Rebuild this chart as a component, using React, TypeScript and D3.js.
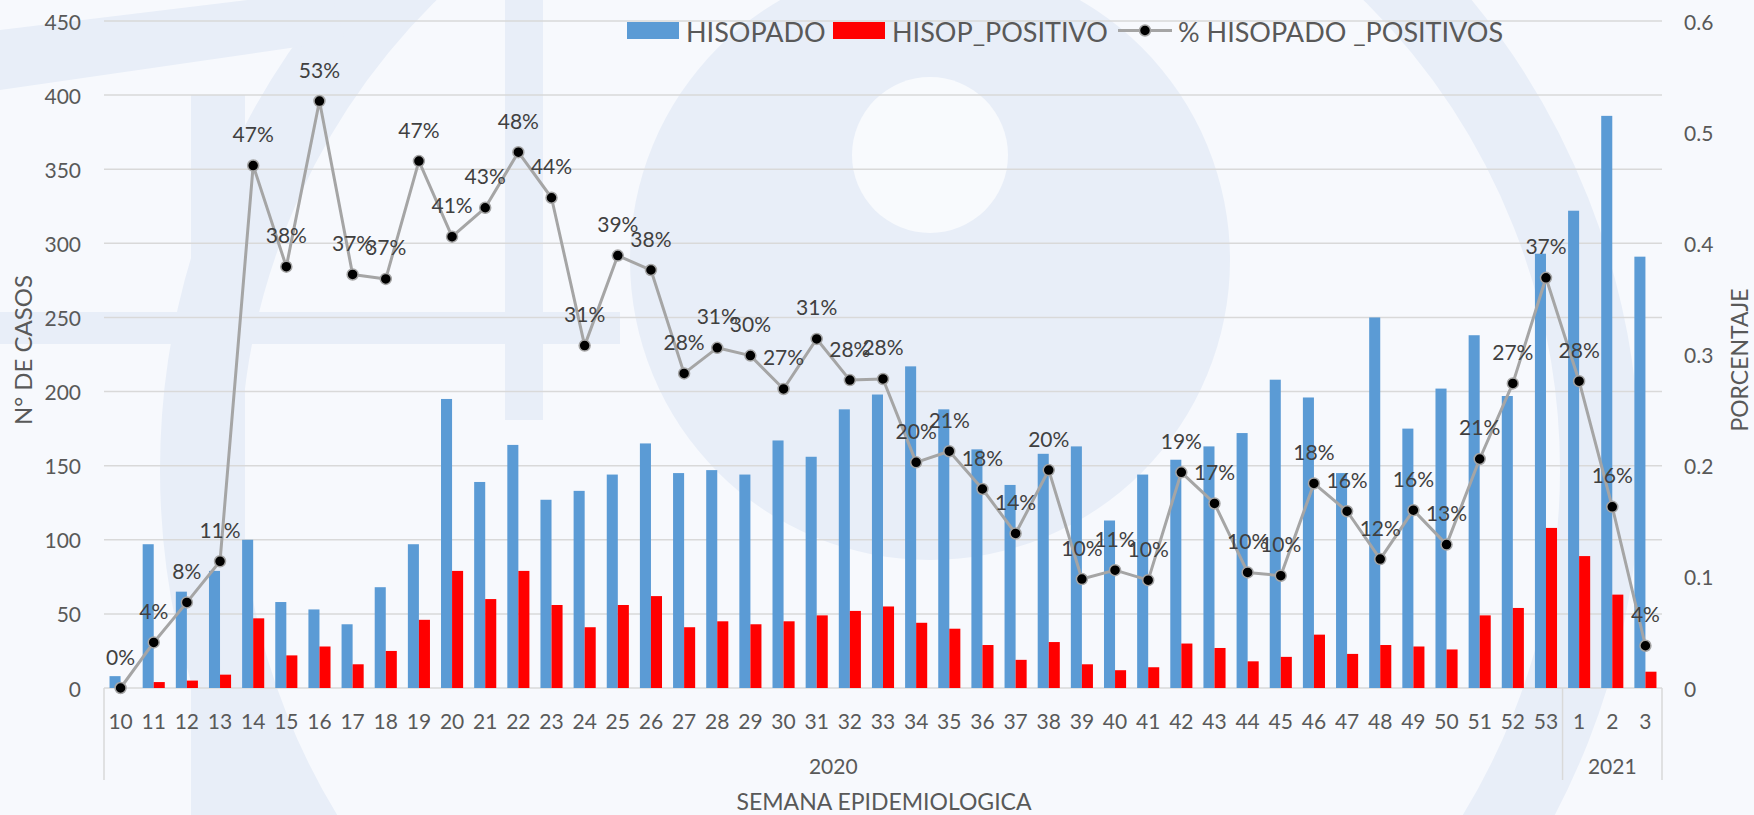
import React, { useEffect } from 'react';
import * as d3 from 'd3';

// semanas epidemiologicas (2020: 10-53, 2021: 1-3)
const weeks = [
  '10', '11', '12', '13', '14', '15', '16', '17', '18', '19',
  '20', '21', '22', '23', '24', '25', '26', '27', '28', '29',
  '30', '31', '32', '33', '34', '35', '36', '37', '38', '39',
  '40', '41', '42', '43', '44', '45', '46', '47', '48', '49',
  '50', '51', '52', '53', '1', '2', '3',
];
const yearGroups: [string, number][] = [['2020', 44], ['2021', 3]];

const hisopado = [
  8, 97, 65, 79, 100, 58, 53, 43, 68, 97,
  195, 139, 164, 127, 133, 144, 165, 145, 147, 144,
  167, 156, 188, 198, 217, 188, 161, 137, 158, 163,
  113, 144, 154, 163, 172, 208, 196, 145, 250, 175,
  202, 238, 197, 293, 322, 386, 291,
];
const hisopPositivo = [
  0, 4, 5, 9, 47, 22, 28, 16, 25, 46,
  79, 60, 79, 56, 41, 56, 62, 41, 45, 43,
  45, 49, 52, 55, 44, 40, 29, 19, 31, 16,
  12, 14, 30, 27, 18, 21, 36, 23, 29, 28,
  26, 49, 54, 108, 89, 63, 11,
];
const pctPositivos = [
  0, 0.041, 0.077, 0.114, 0.47, 0.379, 0.528, 0.372, 0.368, 0.474,
  0.406, 0.432, 0.482, 0.441, 0.308, 0.389, 0.376, 0.283, 0.306, 0.299,
  0.269, 0.314, 0.277, 0.278, 0.203, 0.213, 0.179, 0.139, 0.196, 0.098,
  0.106, 0.097, 0.194, 0.166, 0.104, 0.101, 0.184, 0.159, 0.116, 0.16,
  0.129, 0.206, 0.274, 0.369, 0.276, 0.163, 0.038,
];
const leftTicks = [0, 50, 100, 150, 200, 250, 300, 350, 400, 450];
const rightTicks = [0, 0.1, 0.2, 0.3, 0.4, 0.5, 0.6];

const W = 1754;
const H = 815;
const left = 104;
const right = 1662;
const top = 21;
const bottom = 688;
const font = 'Lato, "Open Sans", sans-serif';
const textColor = '#595959';
const blue = '#5b9bd5';
const red = '#ff0000';
const lineGray = '#a5a5a5';

const App: React.FC = () => {
  useEffect(() => {
    document.body.style.margin = '0';
    document.body.style.overflow = 'hidden';
  }, []);

  const idx = weeks.map((_, i) => i);
  const x = d3.scaleBand<number>().domain(idx).range([left, right]).padding(0);
  const bw = x.bandwidth();
  const inner = d3.scaleBand<string>().domain(['h', 'p']).range([0, bw]).paddingInner(0).paddingOuter(0.5);
  const yL = d3.scaleLinear().domain([0, 450]).range([bottom, top]);
  const yR = d3.scaleLinear().domain([0, 0.6]).range([bottom, top]);
  const cx = (i: number) => (x(i) as number) + bw / 2;

  const line = d3.line<number>()
    .x((_, i) => cx(i))
    .y((d) => yR(d));

  // group separators on the category axis
  let acc = 0;
  const groups = yearGroups.map(([label, n]) => {
    const start = acc;
    acc += n;
    return { label, x0: x(start) as number, x1: (x(acc - 1) as number) + bw };
  });

  return (
    <svg width={W} height={H} style={{ display: 'block', fontFamily: font }}>
      <rect width={W} height={H} fill="#f7f9fd" />
      {/* watermark */}
      <g fill="#e8eef8" stroke="none">
        <circle cx={930} cy={260} r={300} />
        <circle cx={930} cy={155} r={78} fill="#f8fafd" />
        <circle cx={900} cy={470} r={700} fill="none" stroke="#e8eef8" strokeWidth={80} />
        <rect x={0} y={312} width={620} height={32} />
        <rect x={191} y={95} width={54} height={720} />
        <rect x={505} y={0} width={38} height={420} />
        <path d="M0,30 L330,-10 L345,40 L0,90 Z" />
      </g>

      {/* gridlines */}
      {leftTicks.map((t) => (
        <line key={t} x1={left} x2={right} y1={yL(t)} y2={yL(t)} stroke="#d9d9d9" strokeWidth={1.5} />
      ))}

      {/* category group separators */}
      <line x1={left} x2={left} y1={bottom} y2={780} stroke="#d9d9d9" strokeWidth={1.5} />
      {groups.map((g) => (
        <line key={g.label} x1={g.x1} x2={g.x1} y1={bottom} y2={780} stroke="#d9d9d9" strokeWidth={1.5} />
      ))}

      {/* bars */}
      {hisopado.map((v, i) => (
        <rect key={'h' + i} x={(x(i) as number) + (inner('h') as number)} width={inner.bandwidth()}
          y={yL(v)} height={bottom - yL(v)} fill={blue} />
      ))}
      {hisopPositivo.map((v, i) => (
        <rect key={'p' + i} x={(x(i) as number) + (inner('p') as number)} width={inner.bandwidth()}
          y={yL(v)} height={bottom - yL(v)} fill={red} />
      ))}

      {/* line */}
      <path d={line(pctPositivos) || ''} fill="none" stroke={lineGray} strokeWidth={3} strokeLinejoin="round" />
      {pctPositivos.map((v, i) => (
        <circle key={'m' + i} cx={cx(i)} cy={yR(v)} r={5.5} fill="#000" stroke={lineGray} strokeWidth={1.5} />
      ))}
      {pctPositivos.map((v, i) => (
        <text key={'l' + i} x={cx(i)} y={yR(v) - 32} textAnchor="middle" dominantBaseline="central"
          fontSize={21} fill="#404040">{Math.round(v * 100) + '%'}</text>
      ))}

      {/* left axis */}
      {leftTicks.map((t) => (
        <text key={'yl' + t} x={81} y={yL(t)} textAnchor="end" dominantBaseline="central" fontSize={21} fill={textColor}>{t}</text>
      ))}
      {/* right axis */}
      {rightTicks.map((t) => (
        <text key={'yr' + t} x={1684} y={yR(t)} textAnchor="start" dominantBaseline="central" fontSize={21} fill={textColor}>{t}</text>
      ))}

      {/* category labels */}
      {weeks.map((w, i) => (
        <text key={'x' + i} x={cx(i)} y={720} textAnchor="middle" dominantBaseline="central" fontSize={21} fill={textColor}>{w}</text>
      ))}
      {groups.map((g) => (
        <text key={'g' + g.label} x={(g.x0 + g.x1) / 2} y={765} textAnchor="middle" dominantBaseline="central" fontSize={21} fill={textColor}>{g.label}</text>
      ))}

      {/* axis titles */}
      <text x={884} y={801} textAnchor="middle" dominantBaseline="central" fontSize={23} fill={textColor}>SEMANA EPIDEMIOLOGICA</text>
      <text transform="translate(22,350) rotate(-90)" textAnchor="middle" dominantBaseline="central" fontSize={24} fill={textColor}>N° DE CASOS</text>
      <text transform="translate(1739,360) rotate(-90)" textAnchor="middle" dominantBaseline="central" fontSize={23} fill={textColor}>PORCENTAJE</text>

      {/* legend */}
      <g fontSize={27} fill={textColor}>
        <rect x={627} y={22} width={52} height={17} fill={blue} />
        <text x={686} y={31} dominantBaseline="central">HISOPADO</text>
        <rect x={833} y={22} width={52} height={17} fill={red} />
        <text x={892} y={31} dominantBaseline="central">HISOP_POSITIVO</text>
        <line x1={1118} x2={1172} y1={30.5} y2={30.5} stroke={lineGray} strokeWidth={3} />
        <circle cx={1145} cy={30.5} r={5.5} fill="#000" stroke={lineGray} strokeWidth={1.5} />
        <text x={1178} y={31} dominantBaseline="central">% HISOPADO _POSITIVOS</text>
      </g>
    </svg>
  );
};

export default App;
